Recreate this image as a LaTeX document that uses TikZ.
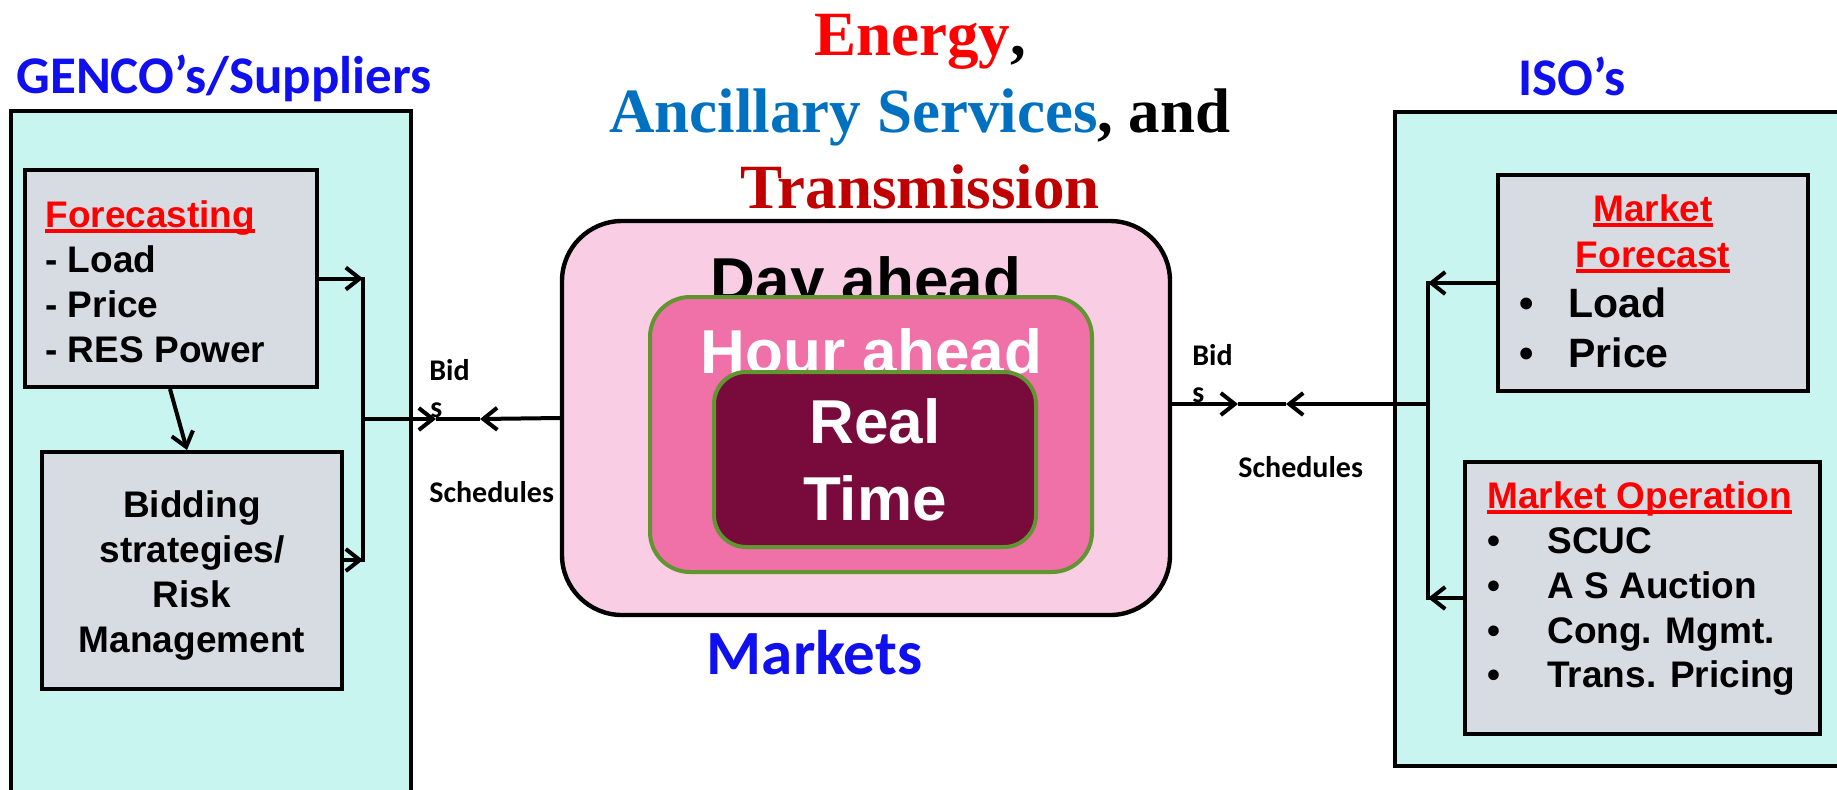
\documentclass[tikz,border=0pt]{standalone}
\usepackage{fontspec}
\setmainfont{Liberation Serif}
\newfontfamily\arialf{Liberation Sans}
\newfontfamily\calf{Carlito}
\usetikzlibrary{arrows.meta}
\definecolor{cyanbg}{HTML}{C8F5F0}
\definecolor{graybox}{HTML}{D7DCE3}
\definecolor{pinklt}{HTML}{F9CDE3}
\definecolor{pinkhot}{HTML}{F070A8}
\definecolor{maroon}{HTML}{780A3C}
\definecolor{greenb}{HTML}{609630}
\definecolor{titleblue}{HTML}{1010EE}
\definecolor{ancblue}{HTML}{0070C0}
\definecolor{transred}{HTML}{C00000}
\newcommand{\redul}[1]{{\setbox0\hbox{#1}\rlap{\color{red}\rule[-2.8pt]{\wd0}{1.7pt}}\box0}}
\tikzset{
  outerbox/.style={draw=black, line width=2pt, fill=cyanbg, inner sep=0pt},
  graybx/.style={draw=black, line width=2pt, fill=graybox, inner sep=0pt},
  txt/.style={inner sep=0pt, anchor=base west},
  ctxt/.style={inner sep=0pt, anchor=base},
  boxfont/.style={font=\arialf\bfseries\fontsize{18.5}{22}\selectfont},
  bigfont/.style={font=\arialf\bfseries\fontsize{31}{36}\selectfont},
  headfont/.style={font=\calf\bfseries\fontsize{26.5}{30}\selectfont, text=titleblue},
  lblfont/.style={font=\calf\bfseries\fontsize{15}{18}\selectfont},
  conn/.style={line width=2pt, draw=black},
  arr/.style={conn, -{Straight Barb[length=7pt,width=11pt]}},
}
\begin{document}
\begin{tikzpicture}[x=0.5pt,y=-0.5pt]
\useasboundingbox (0,0) rectangle (1837,789);

% titles
\node[txt, headfont] (gencot) at (16,93) {GENCO’s/Suppliers};
\node[txt, headfont] (isot) at (1518,95) {ISO’s};
\node[ctxt, font=\bfseries\fontsize{31.5}{38}\selectfont] (t1) at (920,55) {\textcolor{red}{Energy},};
\node[ctxt, font=\bfseries\fontsize{31.5}{38}\selectfont] (t2) at (920,132) {\textcolor{ancblue}{Ancillary Services}, and};
\node[ctxt, font=\bfseries\fontsize{31.5}{38}\selectfont, text=transred] (t3) at (920,208) {Transmission};

% left outer box (cut by the lower edge)
\node[outerbox, minimum width=200pt, minimum height=344.5pt] (genco) at (211,455.5) {};
\node[graybx, minimum width=146pt, minimum height=108.5pt] (fc) at (171,278.5) {};
\node[graybx, minimum width=150pt, minimum height=118.5pt] (bd) at (192,570.5) {};
\node[txt, boxfont, text=red] (fct) at (45,227) {\redul{Forecasting}};
\node[txt, boxfont] (fc1) at (45,272) {- Load};
\node[txt, boxfont] (fc2) at (45,317) {- Price};
\node[txt, boxfont] (fc3) at (45,362) {- RES Power};
\node[ctxt, boxfont] (bd1) at (192,517) {Bidding};
\node[ctxt, boxfont] (bd2) at (192,562) {strategies/};
\node[ctxt, boxfont] (bd3) at (192,607) {Risk};
\node[ctxt, boxfont] (bd4) at (192,652) {Management};

% right outer box (cut by the right edge)
\node[outerbox, minimum width=227.5pt, minimum height=327pt] (iso) at (1622.5,439) {};
\node[graybx, minimum width=155pt, minimum height=108pt] (mf) at (1653,283) {};
\node[graybx, minimum width=177.5pt, minimum height=136pt] (mo) at (1642.5,598) {};
\node[ctxt, boxfont, text=red] (mft1) at (1653,221) {\redul{Market}};
\node[ctxt, boxfont, text=red] (mft2) at (1653,267) {\redul{Forecast}};
\node[txt, font=\arialf\bfseries\fontsize{20.5}{25}\selectfont] (mfb1) at (1519,317) {•};
\node[txt, font=\arialf\bfseries\fontsize{20.5}{25}\selectfont] (mfl1) at (1568,317) {Load};
\node[txt, font=\arialf\bfseries\fontsize{20.5}{25}\selectfont] (mfb2) at (1519,367) {•};
\node[txt, font=\arialf\bfseries\fontsize{20.5}{25}\selectfont] (mfl2) at (1568,367) {Price};
\node[txt, boxfont, text=red] (mot) at (1487,508) {\redul{Market Operation}};
\node[txt, boxfont] (mob1) at (1487,553) {•};
\node[txt, boxfont] (mol1) at (1547,553) {SCUC};
\node[txt, boxfont] (mob2) at (1487,598) {•};
\node[txt, boxfont] (mol2) at (1547,598) {A S Auction};
\node[txt, boxfont] (mob3) at (1487,643) {•};
\node[txt, boxfont] (mol3) at (1547,643) {Cong. Mgmt.};
\node[txt, boxfont] (mob4) at (1487,687) {•};
\node[txt, boxfont] (mol4) at (1547,687) {Trans. Pricing};

% markets
\node[draw=black, line width=2.2pt, fill=pinklt, rounded corners=30pt, inner sep=0pt,
      minimum width=304pt, minimum height=197pt] (mk) at (866,418) {};
\node[ctxt, bigfont] (dat) at (866,301) {Day ahead};
\node[draw=greenb, line width=2pt, fill=pinkhot, rounded corners=20pt, inner sep=0pt,
      minimum width=221pt, minimum height=137.5pt] (ha) at (871,434.5) {};
\node[ctxt, bigfont, text=white] (hat) at (871.5,373) {Hour ahead};
\node[draw=greenb, line width=2pt, fill=maroon, rounded corners=16pt, inner sep=0pt,
      minimum width=161pt, minimum height=87.5pt] (rt) at (875,459.5) {};
\node[ctxt, bigfont, text=white] (rt1) at (875,443) {Real};
\node[ctxt, bigfont, text=white] (rt2) at (875,520) {Time};
\node[ctxt, font=\calf\bfseries\fontsize{31.5}{36}\selectfont, text=titleblue] (mkt) at (814.5,674) {Markets};

% labels
\node[txt, lblfont] (lbid1) at (429,380) {Bid};
\node[txt, lblfont] (lbid2) at (430,417) {s};
\node[txt, lblfont] (lsch) at (429,502) {Schedules};
\node[txt, lblfont] (rbid1) at (1192,365) {Bid};
\node[txt, lblfont] (rbid2) at (1192,402) {s};
\node[txt, lblfont] (rsch) at (1238,477) {Schedules};

% left connectors
\coordinate (l1) at (363,278.5);
\coordinate (l2) at (363,560);
\coordinate (lm) at (363,419);
\coordinate (lb) at (436,419);
\coordinate (ls) at (480,419);
\draw[arr] (fc.east) -- (fc.east -| l1);
\draw[arr] (bd.east |- l2) -- (l2);
\draw[conn, line cap=rect] (l1) -- (l2);
\draw[arr] (lm) -- (lb);
\draw[conn] (lb) -- (ls);
\draw[arr] (mk.west) -- (ls);
\draw[arr] ([xshift=-0.5pt]fc.south) -- ([xshift=-2.5pt]bd.north);

% right connectors
\coordinate (r1) at (1428,283);
\coordinate (r2) at (1428,598);
\coordinate (rm) at (1428,404);
\coordinate (rb) at (1238,404);
\coordinate (rs) at (1286,404);
\draw[arr] (mf.west) -- (mf.west -| r1);
\draw[arr] (mo.west) -- (mo.west -| r2);
\draw[conn, line cap=rect] (r1) -- (r2);
\draw[arr] (mk.east |- rm) -- (rb);
\draw[conn] (rb) -- (rs);
\draw[arr] (rm) -- (rs);
\end{tikzpicture}
\end{document}
